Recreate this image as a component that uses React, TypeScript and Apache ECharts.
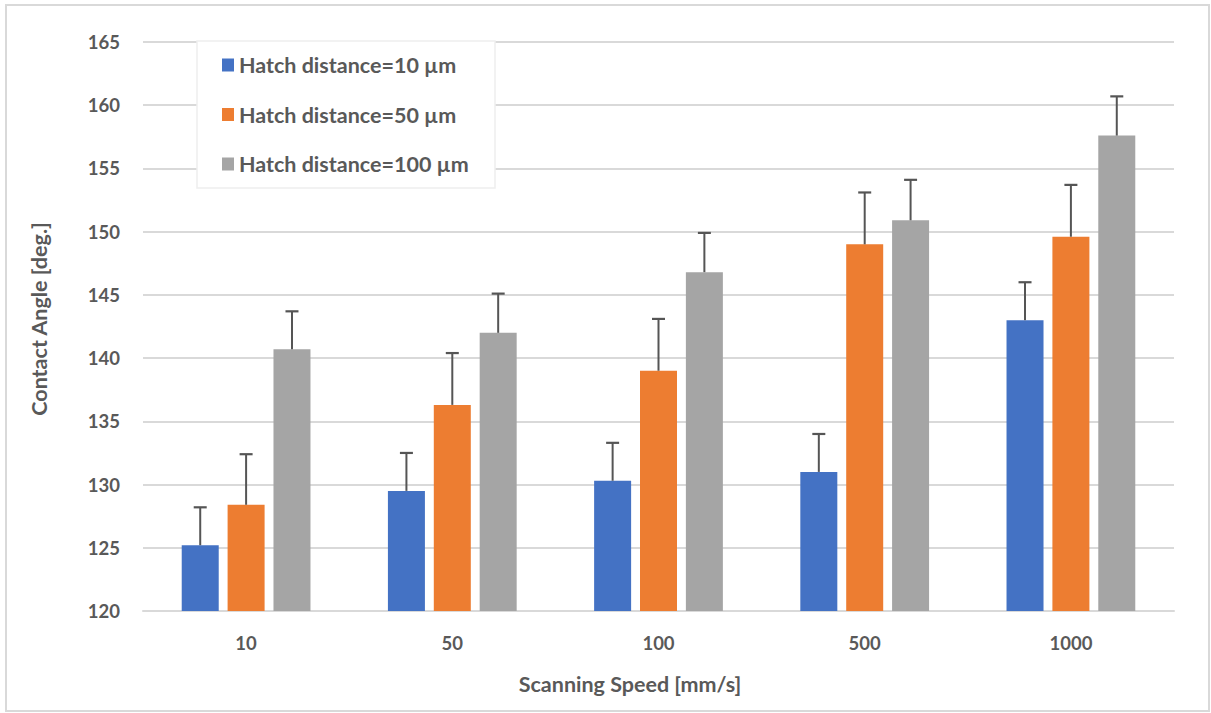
import React, { useEffect, useRef } from "react";
import * as echarts from "echarts";

const categories = ["10", "50", "100", "500", "1000"];
const seriesNames = [
  "Hatch distance=10 µm",
  "Hatch distance=50 µm",
  "Hatch distance=100 µm",
];
const hatch10 = [125.2, 129.5, 130.3, 131.0, 143.0];
const hatch50 = [128.4, 136.3, 139.0, 149.0, 149.6];
const hatch100 = [140.7, 142.0, 146.8, 150.9, 157.6];
const err10 = [3.0, 3.0, 3.0, 3.0, 3.0];
const err50 = [4.0, 4.1, 4.1, 4.1, 4.1];
const err100 = [3.0, 3.1, 3.1, 3.2, 3.1];
const yTicks = [120, 125, 130, 135, 140, 145, 150, 155, 160, 165];

const colors = ["#4472C4", "#ED7D31", "#A5A5A5"];
const TEXT = "#595959";
const FONT = "Lato";
const BAR_W = 37;
const BAR_GAP = 0.24;
const TICK_SIZE = 18.5;
const LABEL_SIZE = 21.5;

export default function App() {
  const ref = useRef<HTMLDivElement>(null);
  useEffect(() => {
    if (!ref.current) return;
    const chart = echarts.init(ref.current, null, { renderer: "svg" });
    const values = [hatch10, hatch50, hatch100];
    const errs = [err10, err50, err100];
    const spacing = BAR_W * (1 + BAR_GAP);

    const barSeries = values.map((vals, k) => ({
      name: seriesNames[k],
      type: "bar",
      data: vals,
      barWidth: BAR_W,
      barGap: BAR_GAP * 100 + "%",
      itemStyle: { color: colors[k] },
      z: 2,
    }));

    const errSeries = values.map((vals, k) => ({
      type: "custom",
      name: "err" + k,
      z: 3,
      silent: true,
      data: vals.map((v, i) => [i, v, errs[k][i]]),
      renderItem: (params: any, api: any) => {
        const idx = api.value(0);
        const v = api.value(1);
        const e = api.value(2);
        const p0 = api.coord([idx, v]);
        const p1 = api.coord([idx, v + e]);
        const x = p0[0] + (k - 1) * spacing;
        const half = 6.5;
        return {
          type: "group",
          children: [
            {
              type: "line",
              shape: { x1: x, y1: p0[1], x2: x, y2: p1[1] },
              style: { stroke: "#555555", lineWidth: 2 },
            },
            {
              type: "line",
              shape: { x1: x - half, y1: p1[1], x2: x + half, y2: p1[1] },
              style: { stroke: "#555555", lineWidth: 2.2 },
            },
          ],
        };
      },
    }));

    chart.setOption({
      animation: false,
      backgroundColor: "#ffffff",
      textStyle: { fontFamily: FONT },
      grid: { left: 143, right: 37, top: 42, bottom: 102, containLabel: false },
      legend: {
        data: seriesNames,
        orient: "vertical",
        left: 222,
        top: 54,
        padding: 0,
        itemWidth: 12,
        itemHeight: 13,
        itemGap: 27.5,
        icon: "rect",
        textStyle: {
          color: TEXT,
          fontSize: LABEL_SIZE,
          fontWeight: "bold",
          fontFamily: FONT,
        },
        z: 5,
      },
      graphic: [
        {
          type: "rect",
          shape: { x: 6, y: 5, width: 1203, height: 706 },
          style: { fill: "none", stroke: "#d9d9d9", lineWidth: 2 },
          z: 0,
        },
        {
          type: "rect",
          shape: { x: 197, y: 41, width: 298, height: 147 },
          style: { fill: "#ffffff", stroke: "#eeeeee", lineWidth: 1.5 },
          z: 4,
        },
        {
          type: "text",
          x: 630,
          y: 684,
          style: {
            text: "Scanning Speed [mm/s]",
            fill: TEXT,
            font: `bold ${LABEL_SIZE}px ${FONT}`,
            textAlign: "center",
            textVerticalAlign: "middle",
          },
        },
        {
          type: "text",
          x: 39,
          y: 319,
          rotation: Math.PI / 2,
          style: {
            text: "Contact Angle [deg.]",
            fill: TEXT,
            font: `bold ${LABEL_SIZE}px ${FONT}`,
            textAlign: "center",
            textVerticalAlign: "middle",
          },
        },
      ],
      xAxis: {
        type: "category",
        data: categories,
        axisTick: { show: false },
        axisLine: { show: true, lineStyle: { color: "#d9d9d9", width: 2 } },
        axisLabel: {
          color: TEXT,
          fontSize: TICK_SIZE,
          fontWeight: "bold",
          fontFamily: FONT,
          margin: 22,
        },
      },
      yAxis: {
        type: "value",
        min: yTicks[0],
        max: yTicks[yTicks.length - 1],
        interval: 5,
        axisLine: { show: false },
        axisTick: { show: false },
        splitLine: { lineStyle: { color: "#d9d9d9", width: 2 } },
        axisLabel: {
          color: TEXT,
          fontSize: TICK_SIZE,
          fontWeight: "bold",
          fontFamily: FONT,
          margin: 23,
        },
      },
      series: [...barSeries, ...errSeries],
    });
    return () => chart.dispose();
  }, []);
  return (
    <div
      ref={ref}
      style={{ position: "absolute", left: 0, top: 0, width: 1211, height: 713 }}
    />
  );
}
